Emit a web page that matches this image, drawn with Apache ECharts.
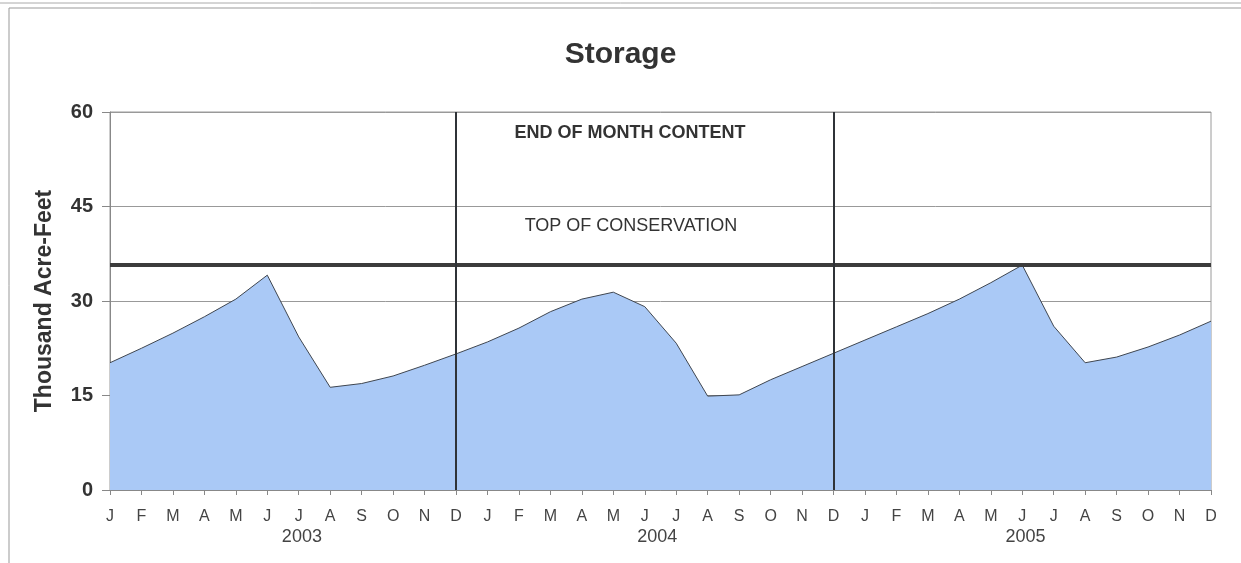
<!DOCTYPE html>
<html>
<head>
<meta charset="utf-8">
<script src="https://cdn.jsdelivr.net/npm/echarts@6/dist/echarts.min.js"></script>
<style>
  html, body { margin: 0; padding: 0; background: #fff; }
  #main { width: 1241px; height: 563px; }
</style>
</head>
<body>
<div id="main"></div>
<script>
// month labels, 2003-2005
const months = ['J','F','M','A','M','J','J','A','S','O','N','D',
                'J','F','M','A','M','J','J','A','S','O','N','D',
                'J','F','M','A','M','J','J','A','S','O','N','D'];
// end of month content, thousand acre-feet
const storage = [20.2, 22.5, 24.9, 27.5, 30.3, 34.1, 24.3, 16.3, 16.9, 18.1, 19.8, 21.6,
                 23.5, 25.7, 28.3, 30.3, 31.4, 29.1, 23.3, 14.9, 15.1, 17.5, 19.6, 21.7,
                 23.8, 25.9, 28.0, 30.3, 32.9, 35.7, 26.0, 20.2, 21.1, 22.7, 24.6, 26.8];
const topOfConservation = 35.8;
const yearBreaks = [11, 23];
const years = ['2003', '2004', '2005'];
const yearPos = [6.1, 17.4, 29.1];
const yTicks = [0, 15, 30, 45, 60];

const font = 'Liberation Sans, Arial, sans-serif';
const chart = echarts.init(document.getElementById('main'));

chart.setOption({
    animation: false,
    backgroundColor: '#fff',
    title: {
        text: 'Storage',
        left: 'center',
        top: 35,
        textStyle: { fontFamily: font, fontSize: 30, fontWeight: 'bold', color: '#333' }
    },
    grid: {
        left: 110, right: 30, top: 112, bottom: 73,
        show: true, borderColor: '#9a9a9a', borderWidth: 1
    },
    xAxis: [
        {
            type: 'category',
            data: months,
            boundaryGap: false,
            axisLine: { lineStyle: { color: '#888' } },
            axisTick: { show: true, length: 5, lineStyle: { color: '#888' } },
            axisLabel: { interval: 0, margin: 19, fontFamily: font, fontSize: 16, color: '#444' },
            splitLine: { show: false }
        },
        {
            type: 'value',
            position: 'bottom',
            min: 0, max: 35,
            offset: 30,
            axisLine: { show: false },
            axisTick: { show: false },
            splitLine: { show: false },
            axisLabel: {
                customValues: yearPos,
                margin: 8,
                fontFamily: font, fontSize: 18, color: '#444',
                formatter: function (v) {
                    const i = yearPos.indexOf(v);
                    return i >= 0 ? years[i] : '';
                }
            }
        }
    ],
    yAxis: {
        type: 'value',
        min: yTicks[0], max: yTicks[yTicks.length - 1], interval: 15,
        name: 'Thousand Acre-Feet',
        nameLocation: 'middle',
        nameGap: 54,
        nameTextStyle: { fontFamily: font, fontSize: 23, fontWeight: 'bold', color: '#333' },
        axisLine: { show: true, lineStyle: { color: '#888' } },
        axisTick: { show: true, length: 8, lineStyle: { color: '#888' } },
        axisLabel: { margin: 17, fontFamily: font, fontSize: 20, fontWeight: 'bold', color: '#333' },
        splitLine: { lineStyle: { color: '#999', width: 1 } }
    },
    graphic: [
        { type: 'line', shape: { x1: 0, y1: 3, x2: 1241, y2: 3 }, style: { stroke: '#aaa', lineWidth: 1 } },
        { type: 'line', shape: { x1: 9, y1: 8, x2: 1241, y2: 8 }, style: { stroke: '#999', lineWidth: 1 } },
        { type: 'line', shape: { x1: 9, y1: 8, x2: 9, y2: 563 }, style: { stroke: '#999', lineWidth: 1 } },
        {
            type: 'text', x: 630, y: 133,
            style: { text: 'END OF MONTH CONTENT', fontFamily: font, fontSize: 18, fontWeight: 'bold',
                     fill: '#333', textAlign: 'center', textVerticalAlign: 'middle' }
        },
        {
            type: 'text', x: 631, y: 226,
            style: { text: 'TOP OF CONSERVATION', fontFamily: font, fontSize: 18,
                     fill: '#333', textAlign: 'center', textVerticalAlign: 'middle' }
        }
    ],
    series: [
        {
            name: 'Storage',
            type: 'line',
            data: storage,
            symbol: 'none',
            lineStyle: { color: '#3f4650', width: 1 },
            areaStyle: { color: '#aac9f6', opacity: 1 },
            z: 2,
            markLine: {
                silent: true,
                symbol: 'none',
                label: { show: false },
                data: [
                    { yAxis: topOfConservation, lineStyle: { color: '#3c3c3c', width: 4, type: 'solid' } },
                    { xAxis: yearBreaks[0], lineStyle: { color: '#2f3338', width: 2, type: 'solid' } },
                    { xAxis: yearBreaks[1], lineStyle: { color: '#2f3338', width: 2, type: 'solid' } }
                ]
            }
        }
    ]
});
</script>
</body>
</html>
